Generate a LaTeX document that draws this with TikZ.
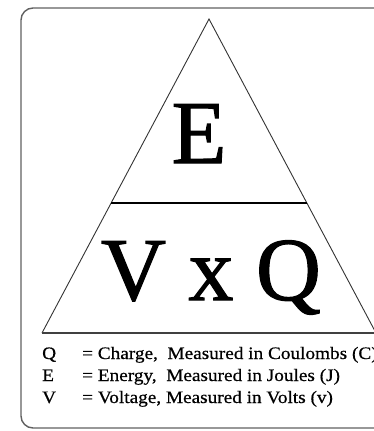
\documentclass[tikz,border=0pt]{standalone}
\usepackage{fontspec}
\setmainfont{Liberation Serif}
\newfontfamily\bigfont[FakeBold=1.2]{Liberation Serif}
\newfontfamily\legfont[FakeBold=0.6,FakeStretch=1.1]{Liberation Serif}
\begin{document}
\begin{tikzpicture}[x=1pt,y=-1pt,
  frame/.style={draw=black!62,line width=1.4pt,rounded corners=12pt},
  tri/.style={draw=black!80,line width=0.9pt},
  big/.style={font=\bigfont\fontsize{90}{90}\selectfont,inner sep=0pt,anchor=base},
  leg/.style={font=\legfont\fontsize{17.5}{18}\selectfont,inner sep=0pt,anchor=base west}]
\useasboundingbox (0,0) rectangle (374,431);
\clip (0,0) rectangle (374,431);
\draw[frame] (21,8) rectangle (420,428);
\coordinate (apex) at (209,19);
\coordinate (bl) at (42,333);
\coordinate (br) at (376,333);
\coordinate (dl) at (111,203);
\coordinate (dr) at (307,203);
\draw[tri] (bl) -- (apex) -- (br);
\draw[draw=black!75,line width=1.3pt] (bl) -- (br);
\draw[black,line width=1.6pt] (dl) -- (dr);
\node[big] (E) at (199,163) {E};
\node[big] (VQ) at (211,300) {V x Q};
\node[leg] (l1) at (42,359) {Q};
\node[leg] (l2) at (42,381) {E};
\node[leg] (l3) at (42,403) {V};
\node[leg] (t1) at (82,359) {= Charge,\ \ Measured in Coulombs (C)};
\node[leg] (t2) at (82,381) {= Energy,\ \ Measured in Joules (J)};
\node[leg] (t3) at (82,403) {= Voltage, Measured in Volts (v)};
\end{tikzpicture}
\end{document}
